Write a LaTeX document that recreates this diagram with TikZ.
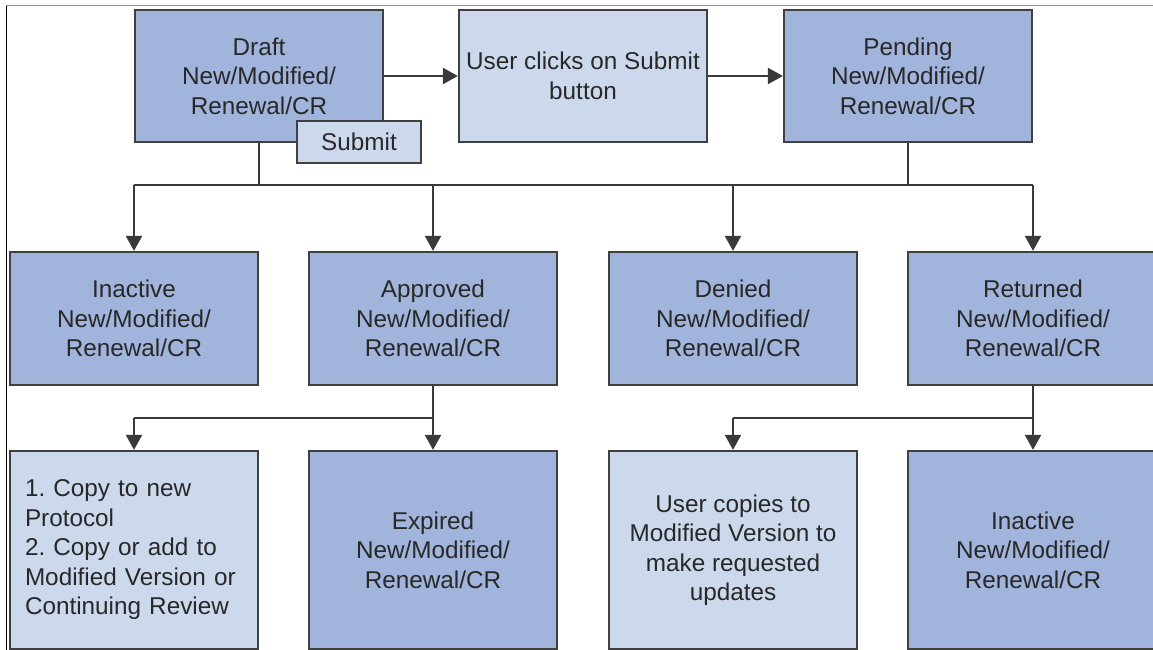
\documentclass[tikz,border=0pt]{standalone}
\usepackage{fontspec}
\setmainfont{Liberation Sans}
\usetikzlibrary{arrows.meta}
\definecolor{darkf}{RGB}{160,180,220}
\definecolor{lightf}{RGB}{204,217,236}
\definecolor{bordc}{RGB}{64,64,64}
\definecolor{linec}{RGB}{58,58,58}
\definecolor{textc}{RGB}{40,40,40}
\definecolor{framec}{RGB}{150,150,150}
\frenchspacing
\begin{document}
\begin{tikzpicture}[x=1pt,y=-1pt,
  boxbase/.style={draw=bordc, line width=2.3pt, inner sep=0pt, align=center,
    text=textc, font=\fontsize{24.3}{29.5}\selectfont},
  darkbox/.style={boxbase, fill=darkf, minimum width=248pt, minimum height=132pt},
  lightbox/.style={boxbase, fill=lightf, minimum width=248pt, minimum height=132pt},
  conn/.style={draw=linec, line width=2.3pt},
  arr/.style={conn, -{Triangle[width=16pt,length=15pt]}}
]
\useasboundingbox (0,0) rectangle (1153,650);
\clip (0,0) rectangle (1153,650);
\fill[white] (0,0) rectangle (1153,650);
\draw[framec, line width=1pt] (6,6) -- (1153,6);
\draw[black, line width=1pt] (6,6) -- (6,650);

% top row
\node[darkbox] (draft) at (259,76) {Draft\\New/Modified/\\Renewal/CR};
\node[boxbase, fill=lightf, minimum width=124pt, minimum height=42pt] (submit) at (359,142) {Submit};
\node[lightbox] (user) at (583,76) {User clicks on Submit\\button};
\node[darkbox] (pend) at (908,76) {Pending\\New/Modified/\\Renewal/CR};

% second row
\node[darkbox, minimum height=133pt] (inact) at (134,318.5) {Inactive\\New/Modified/\\Renewal/CR};
\node[darkbox, minimum height=133pt] (appr) at (433,318.5) {Approved\\New/Modified/\\Renewal/CR};
\node[darkbox, minimum height=133pt] (deny) at (733,318.5) {Denied\\New/Modified/\\Renewal/CR};
\node[darkbox, minimum height=133pt, minimum width=250pt] (ret) at (1033,318.5) {Returned\\New/Modified/\\Renewal/CR};

% third row
\node[lightbox, minimum height=198pt, text width=218pt, align=left] (copy) at (134,550) {1. Copy to new\\Protocol\\2. Copy or add to\\Modified Version or\\Continuing Review};
\node[darkbox, minimum height=198pt] (expd) at (433,550) {Expired\\New/Modified/\\Renewal/CR};
\node[lightbox, minimum height=198pt] (ucop) at (733,550) {User copies to\\Modified Version to\\make requested\\updates};
\node[darkbox, minimum height=198pt, minimum width=250pt] (inact2) at (1033,550) {Inactive\\New/Modified/\\Renewal/CR};

% bus coordinates
\coordinate (busA) at (0,185);
\coordinate (busB) at (0,418);

% top arrows
\draw[arr] (draft.east) -- (user.west);
\draw[arr] (user.east) -- (pend.west);

% first distribution
\draw[conn] (draft.south) -- (draft.south |- busA);
\draw[conn] (pend.south) -- (pend.south |- busA);
\draw[conn] (inact.north |- busA) -- (ret.north |- busA);
\draw[arr] (inact.north |- busA) -- (inact.north);
\draw[arr] (appr.north |- busA) -- (appr.north);
\draw[arr] (deny.north |- busA) -- (deny.north);
\draw[arr] (ret.north |- busA) -- (ret.north);

% second distribution (approved)
\draw[conn] (appr.south) -- (appr.south |- busB);
\draw[conn] (copy.north |- busB) -- (appr.south |- busB);
\draw[arr] (copy.north |- busB) -- (copy.north);
\draw[arr] (expd.north |- busB) -- (expd.north);

% third distribution (returned)
\draw[conn] (ret.south) -- (ret.south |- busB);
\draw[conn] (ucop.north |- busB) -- (ret.south |- busB);
\draw[arr] (ucop.north |- busB) -- (ucop.north);
\draw[arr] (inact2.north |- busB) -- (inact2.north);
\end{tikzpicture}
\end{document}
